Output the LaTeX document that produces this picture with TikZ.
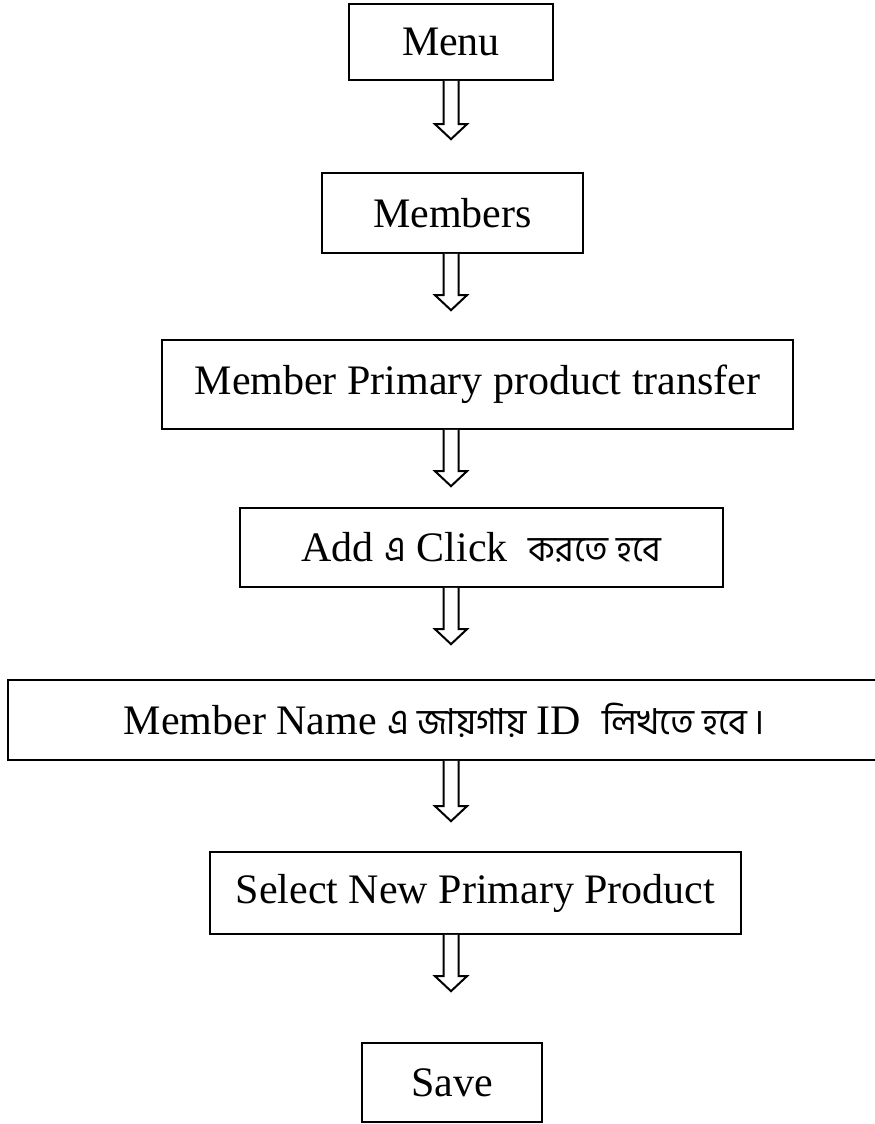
\documentclass[tikz,border=0pt]{standalone}
\usepackage{fontspec}
\setmainfont{Liberation Serif}
\newfontfamily\bn[Script=Bengali,Scale=0.85]{Hind Siliguri}
\usetikzlibrary{calc}
\tikzset{
  x=1pt,y=-1pt,
  flowbox/.style={draw=black,line width=1.7pt,inner sep=0pt,fill=white,
    font=\fontsize{42}{50}\selectfont},
  hollow/.style={draw=black,line width=2pt,line join=miter,fill=white}
}
\newcommand\hollowarrow[2]{%
  \draw[hollow] let \p1=(#1), \p2=(#2) in
    (\x1-7.5pt,\y1) -- (\x1-7.5pt,\y2+15pt) -- (\x1-16pt,\y2+15pt) -- (\x2,\y2)
    -- (\x1+16pt,\y2+15pt) -- (\x1+7.5pt,\y2+15pt) -- (\x1+7.5pt,\y1);}
\begin{document}
\begin{tikzpicture}
\useasboundingbox (0,0) rectangle (875,1124);
\coordinate (ax) at (451,0);
\node[flowbox,minimum width=204,minimum height=76] (b1) at (451,42) {Menu};
\node[flowbox,minimum width=261,minimum height=80] (b2) at (452.5,213) {Members};
\node[flowbox,minimum width=631,minimum height=89] (b3) at (477.5,384.5) {Member Primary product transfer};
\node[flowbox,minimum width=483,minimum height=79] (b4) at (481.5,547.5) {Add {\bn এ} Click\ \ {\bn করতে হবে}};
\node[flowbox,minimum width=872,minimum height=80] (b5) at (444,720) {Member Name {\bn এ জায়গায়} ID\ \ {\bn লিখতে হবে\,।}};
\node[flowbox,minimum width=531,minimum height=82] (b6) at (475.5,893) {Select New Primary Product};
\node[flowbox,minimum width=180,minimum height=79] (b7) at (452,1082.5) {Save};
\coordinate (t1) at ($(b2.north -| ax)+(0,-33)$);
\coordinate (t2) at ($(b3.north -| ax)+(0,-29)$);
\coordinate (t3) at ($(b4.north -| ax)+(0,-21)$);
\coordinate (t4) at ($(b5.north -| ax)+(0,-35)$);
\coordinate (t5) at ($(b6.north -| ax)+(0,-30)$);
\coordinate (t6) at ($(b7.north -| ax)+(0,-51)$);
\hollowarrow{b1.south -| ax}{t1}
\hollowarrow{b2.south -| ax}{t2}
\hollowarrow{b3.south -| ax}{t3}
\hollowarrow{b4.south -| ax}{t4}
\hollowarrow{b5.south -| ax}{t5}
\hollowarrow{b6.south -| ax}{t6}
\end{tikzpicture}
\end{document}
